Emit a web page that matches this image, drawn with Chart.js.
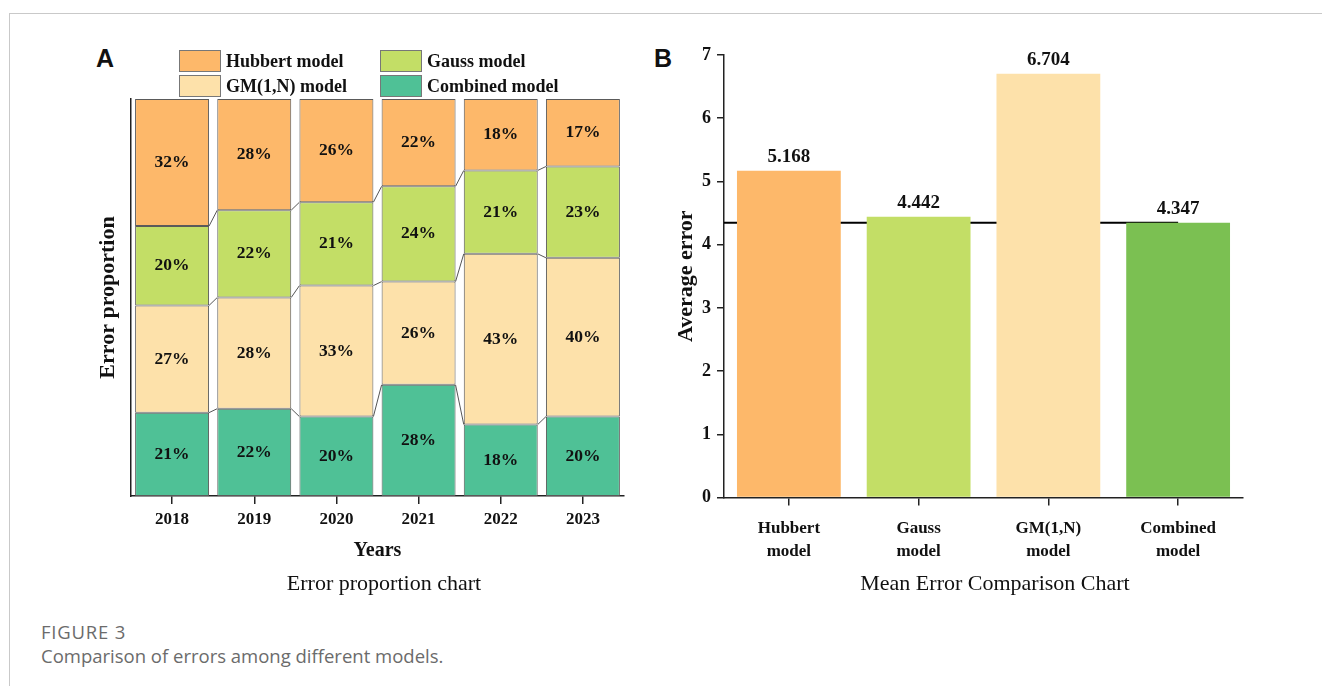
<!DOCTYPE html>
<html>
<head>
<meta charset="utf-8">
<title>Comparison of errors among different models</title>
<script src="https://cdn.jsdelivr.net/npm/chart.js@4.4.1/dist/chart.umd.min.js"></script>
<style>
  html, body { margin: 0; padding: 0; background: #fff; }
  #page { position: relative; width: 1322px; height: 686px; overflow: hidden; background: #fff; }
  #rule-top { position: absolute; left: 9px; top: 13px; width: 1313px; height: 0; border-top: 1px solid #c9c9c9; }
  #rule-left { position: absolute; left: 9px; top: 13px; width: 0; height: 673px; border-left: 1px solid #c9c9c9; }
  .panel { position: absolute; }
  #wrapA { left: 90px; top: 30px; width: 550px; height: 580px; }
  #wrapB { left: 650px; top: 30px; width: 640px; height: 580px; }
  .tag { position: absolute; font: bold 25px "Liberation Sans", Arial, sans-serif; line-height: 28px; color: #111; }
  #tagA { left: 96px; top: 44px; }
  #tagB { left: 654px; top: 44px; }
  .subtitle { position: absolute; width: 400px; top: 570px; text-align: center; font: 22px "Liberation Serif", "Times New Roman", serif; line-height: 26px; color: #111; white-space: nowrap; }
  #subA { left: 184px; }
  #subB { left: 795px; }
  .cap { position: absolute; left: 41px; font-family: "Open Sans", "Noto Sans", sans-serif; font-size: 18.5px; line-height: 24px; color: #6b6b6b; white-space: nowrap; }
  #cap1 { top: 620px; letter-spacing: 0.8px; }
  #cap2 { top: 644px; }
</style>
</head>
<body>
<div id="page">
  <div id="rule-top"></div>
  <div id="rule-left"></div>
  <div class="tag" id="tagA">A</div>
  <div class="tag" id="tagB">B</div>
  <div class="panel" id="wrapA"><canvas id="chartA"></canvas></div>
  <div class="panel" id="wrapB"><canvas id="chartB"></canvas></div>
  <div class="subtitle" id="subA">Error proportion chart</div>
  <div class="subtitle" id="subB">Mean Error Comparison Chart</div>
  <div class="cap" id="cap1">FIGURE 3</div>
  <div class="cap" id="cap2">Comparison of errors among different models.</div>
</div>
<script>
// ---- Data ----
const years = ['2018', '2019', '2020', '2021', '2022', '2023'];
// Share of total error per model and year (%)
const hubbertShare  = [32, 28, 26, 22, 18, 17];
const gaussShare    = [20, 22, 21, 24, 21, 23];
const gmShare       = [27, 28, 33, 26, 43, 40];
const combinedShare = [21, 22, 20, 28, 18, 20];

const modelNames = ['Hubbert model', 'Gauss model', 'GM(1,N) model', 'Combined model'];
const modelTickLabels = [['Hubbert', 'model'], ['Gauss', 'model'], ['GM(1,N)', 'model'], ['Combined', 'model']];
// Mean error per model
const meanError = [5.168, 4.442, 6.704, 4.347];

// ---- Styling ----
const SERIF = '"Liberation Serif", "Times New Roman", serif';
const INK = '#111';
const AXIS = '#222';
const colors = {
  hubbert: '#FDB86A',
  gauss: '#C3DE66',
  gm: '#FDE1AA',
  combinedA: '#4FC196',
  combinedB: '#7BC052'
};

Chart.defaults.font.family = SERIF;
Chart.defaults.color = INK;

// ---- Panel A plugins ----
// thin lines joining the segment boundaries of neighbouring columns
const connectorPlugin = {
  id: 'connectors',
  afterDatasetsDraw(chart) {
    const ctx = chart.ctx;
    ctx.save();
    ctx.strokeStyle = '#555';
    ctx.lineWidth = 1;
    const n = chart.data.datasets.length;
    for (let d = 0; d < n - 1; d++) {
      const els = chart.getDatasetMeta(d).data;
      for (let i = 0; i < els.length - 1; i++) {
        const a = els[i], b = els[i + 1];
        ctx.beginPath();
        ctx.moveTo(a.x + a.width / 2, a.y);
        ctx.lineTo(b.x - b.width / 2, b.y);
        ctx.stroke();
      }
    }
    ctx.restore();
  }
};

// percentage written in the middle of each segment
const segmentLabelPlugin = {
  id: 'segmentLabels',
  afterDatasetsDraw(chart) {
    const ctx = chart.ctx;
    ctx.save();
    ctx.font = 'bold 17.5px ' + SERIF;
    ctx.fillStyle = INK;
    ctx.textAlign = 'center';
    ctx.textBaseline = 'middle';
    chart.data.datasets.forEach((ds, d) => {
      chart.getDatasetMeta(d).data.forEach((el, i) => {
        ctx.fillText(ds.data[i] + '%', el.x, (el.y + el.base) / 2);
      });
    });
    ctx.restore();
  }
};

// two-by-two legend above the plot
const gridLegendPlugin = {
  id: 'gridLegend',
  afterDraw(chart, args, opts) {
    const ctx = chart.ctx;
    const byLabel = {};
    chart.data.datasets.forEach(ds => { byLabel[ds.label] = ds; });
    ctx.save();
    ctx.font = 'bold 18px ' + SERIF;
    ctx.textBaseline = 'middle';
    ctx.textAlign = 'left';
    opts.order.forEach((label, k) => {
      const col = k % 2, row = Math.floor(k / 2);
      const x = opts.x[col], y = opts.y[row];
      const ds = byLabel[label];
      ctx.fillStyle = ds.backgroundColor;
      ctx.fillRect(x, y, opts.boxW, opts.boxH);
      ctx.strokeStyle = '#777';
      ctx.lineWidth = 1;
      ctx.strokeRect(x + 0.5, y + 0.5, opts.boxW - 1, opts.boxH - 1);
      ctx.fillStyle = INK;
      ctx.fillText(label, x + opts.boxW + 5, y + opts.boxH / 2 + 1);
    });
    ctx.restore();
  }
};

new Chart(document.getElementById('chartA'), {
  type: 'bar',
  data: {
    labels: years,
    datasets: [
      { label: 'Combined model', data: combinedShare, backgroundColor: colors.combinedA },
      { label: 'GM(1,N) model', data: gmShare, backgroundColor: colors.gm },
      { label: 'Gauss model', data: gaussShare, backgroundColor: colors.gauss },
      { label: 'Hubbert model', data: hubbertShare, backgroundColor: colors.hubbert }
    ].map(ds => Object.assign(ds, {
      borderColor: '#5a5a5a', borderWidth: 1, borderSkipped: false,
      barPercentage: 0.9, categoryPercentage: 1.0
    }))
  },
  options: {
    responsive: true,
    maintainAspectRatio: false,
    animation: false,
    layout: { padding: { top: 69, right: 16, bottom: 47, left: 0 } },
    plugins: {
      legend: { display: false },
      tooltip: { enabled: false },
      title: { display: false },
      gridLegend: {
        order: modelNames,
        x: [89, 290], y: [20, 45], boxW: 42, boxH: 22
      }
    },
    scales: {
      x: {
        stacked: true,
        grid: { display: true, offset: false, drawOnChartArea: false, drawTicks: true, tickLength: 8, color: AXIS, lineWidth: 1.5 },
        border: { display: true, color: AXIS, width: 1.5 },
        ticks: { padding: 5, color: INK, font: { size: 17, weight: 'bold', lineHeight: 1.2 } },
        title: { display: true, text: 'Years', color: INK, font: { size: 20, weight: 'bold', lineHeight: 1.2 }, padding: { top: 0, bottom: 0 } },
        afterFit(scale) { scale.height = 67; }
      },
      y: {
        stacked: true, min: 0, max: 100,
        grid: { display: false },
        border: { display: true, color: AXIS, width: 1.5 },
        ticks: { display: false },
        title: { display: true, text: 'Error proportion', color: INK, font: { size: 22, weight: 'bold', lineHeight: 1.2 }, padding: { top: 5, bottom: 0 } },
        afterFit(scale) { scale.width = 41; }
      }
    }
  },
  plugins: [connectorPlugin, segmentLabelPlugin, gridLegendPlugin]
});

// ---- Panel B plugins ----
// horizontal reference line at the combined model's mean error, behind the bars
const referenceLinePlugin = {
  id: 'referenceLine',
  beforeDatasetsDraw(chart, args, opts) {
    const ctx = chart.ctx;
    const y = chart.scales.y.getPixelForValue(chart.data.datasets[0].data[opts.index]);
    const el = chart.getDatasetMeta(0).data[opts.index];
    ctx.save();
    ctx.strokeStyle = '#000';
    ctx.lineWidth = 2;
    ctx.beginPath();
    ctx.moveTo(chart.chartArea.left, y);
    ctx.lineTo(el.x, y);
    ctx.stroke();
    ctx.restore();
  }
};

// value printed above each bar
const valueLabelPlugin = {
  id: 'valueLabels',
  afterDatasetsDraw(chart) {
    const ctx = chart.ctx;
    const ds = chart.data.datasets[0];
    ctx.save();
    ctx.font = 'bold 19px ' + SERIF;
    ctx.fillStyle = INK;
    ctx.textAlign = 'center';
    ctx.textBaseline = 'middle';
    chart.getDatasetMeta(0).data.forEach((el, i) => {
      ctx.fillText(ds.data[i].toFixed(3), el.x, el.y - 14);
    });
    ctx.restore();
  }
};

new Chart(document.getElementById('chartB'), {
  type: 'bar',
  data: {
    labels: modelTickLabels,
    datasets: [{
      label: 'Average error',
      data: meanError,
      backgroundColor: [colors.hubbert, colors.gauss, colors.gm, colors.combinedB],
      borderWidth: 0,
      barPercentage: 0.8,
      categoryPercentage: 1.0
    }]
  },
  options: {
    responsive: true,
    maintainAspectRatio: false,
    animation: false,
    layout: { padding: { top: 25, right: 47, bottom: 46.5, left: 0 } },
    plugins: {
      legend: { display: false },
      tooltip: { enabled: false },
      title: { display: false },
      referenceLine: { index: 3 }
    },
    scales: {
      x: {
        grid: { display: true, offset: false, drawOnChartArea: false, drawTicks: true, tickLength: 8, color: AXIS, lineWidth: 1.5 },
        border: { display: true, color: AXIS, width: 1.5 },
        ticks: { padding: 12, color: INK, font: { size: 17, weight: 'bold', lineHeight: 1.35 } },
        afterFit(scale) { scale.height = 66; }
      },
      y: {
        min: 0, max: 7,
        grid: { display: true, drawOnChartArea: false, drawTicks: true, tickLength: 7, color: AXIS, lineWidth: 1.5 },
        border: { display: true, color: AXIS, width: 1.5 },
        ticks: { stepSize: 1, padding: 6, color: INK, font: { size: 18, weight: 'bold' } },
        title: { display: true, text: 'Average error', color: INK, font: { size: 22, weight: 'bold', lineHeight: 1.2 }, padding: { top: 23, bottom: 0 } },
        afterFit(scale) { scale.width = 74; }
      }
    }
  },
  plugins: [referenceLinePlugin, valueLabelPlugin]
});
</script>
</body>
</html>
